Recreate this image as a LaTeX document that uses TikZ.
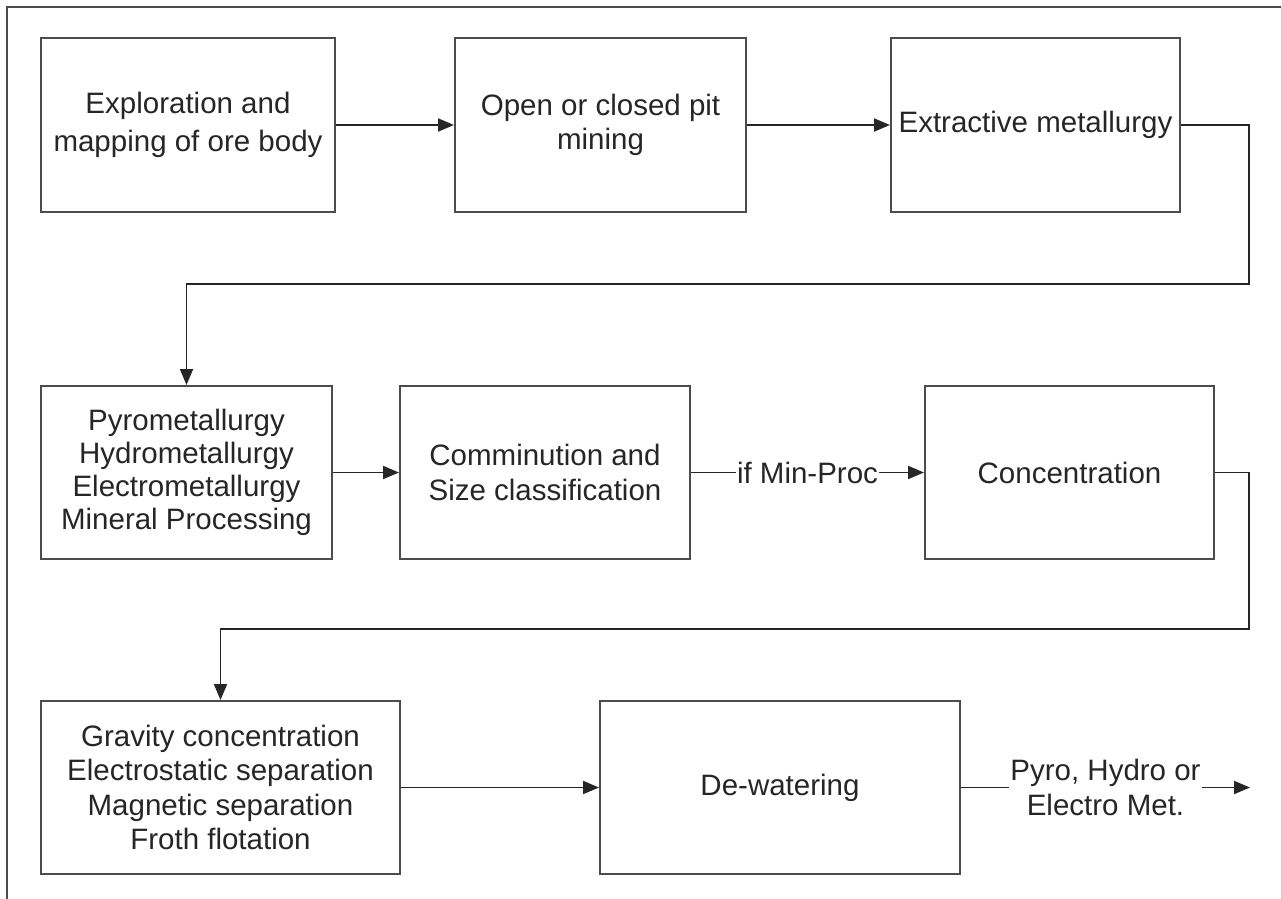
\documentclass[tikz,border=0pt]{standalone}
\usepackage{fontspec}
\setmainfont{Liberation Sans}
\usetikzlibrary{arrows.meta}
\begin{document}
\begin{tikzpicture}[x=1pt,y=-1pt,
  box/.style={draw=black!70, line width=2pt, fill=white, inner sep=0pt, align=center,
    text=black!85, font=\fontsize{29.5}{34.5}\selectfont},
  arr/.style={draw=black!85, line width=1.9pt, -{Triangle[length=16pt,width=13pt]}},
  lbl/.style={fill=white, inner sep=1.5pt, text=black!85, align=center, font=\fontsize{29.5}{34.5}\selectfont}]
\useasboundingbox (0,0) rectangle (1282,899);
\fill[white] (0,0) rectangle (1282,899);
% outer frame
\draw[black!70, line width=2pt] (7,920) -- (7,7) -- (1281,7);
\draw[black!20, line width=1pt] (1281,7) -- (1281,920);
% row 1
\node[box, minimum width=294pt, minimum height=174pt] (b1) at (188,125) {Exploration and\\[3pt]mapping of ore body};
\node[box, minimum width=291pt, minimum height=174pt] (b2) at (600.5,125) {Open or closed pit\\mining};
\node[box, minimum width=289pt, minimum height=174pt] (b3) at (1035.5,125) {Extractive metallurgy};
% row 2
\node[box, minimum width=291pt, minimum height=173pt] (b4) at (186.5,472.5) {Pyrometallurgy\\[-1.5pt]Hydrometallurgy\\[-1.5pt]Electrometallurgy\\[-1.5pt]Mineral Processing};
\node[box, minimum width=290pt, minimum height=173pt] (b5) at (545,472.5) {Comminution and\\Size classification};
\node[box, minimum width=289pt, minimum height=173pt] (b6) at (1069.5,472.5) {Concentration};
% row 3
\node[box, minimum width=359pt, minimum height=173pt] (b7) at (220.5,787.5) {Gravity concentration\\Electrostatic separation\\Magnetic separation\\Froth flotation};
\node[box, minimum width=360pt, minimum height=173pt] (b8) at (780,787.5) {De-watering};
% routing coordinates
\coordinate (r1) at (1249,284);
\coordinate (r2) at (1249,629);
\coordinate (out) at (1250,787.5);
% connectors
\draw[arr] (b1) -- (b2);
\draw[arr] (b2) -- (b3);
\draw[arr] (b3.east) -| (r1) -| (b4.north);
\draw[arr] (b4) -- (b5);
\draw[arr] (b5) -- node[lbl] {if Min-Proc} (b6);
\draw[arr] (b6.east) -| (r2) -| (b7.north);
\draw[arr] (b7) -- (b8);
\draw[arr] (b8.east) -- node[lbl] {Pyro, Hydro or\\Electro Met.} (out);
\end{tikzpicture}
\end{document}
